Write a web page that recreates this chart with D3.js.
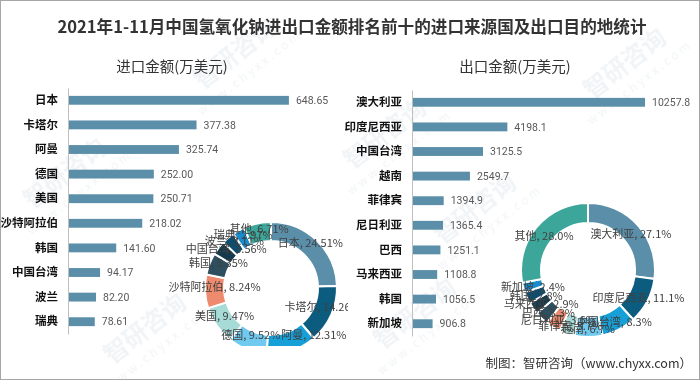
<!DOCTYPE html>
<html><head><meta charset="utf-8">
<script src="https://cdn.jsdelivr.net/npm/d3@7"></script>
<style>
html,body{margin:0;padding:0;background:#fff;}
svg{display:block;font-family:"Noto Sans CJK SC","Noto Sans",sans-serif;}
</style></head>
<body>
<svg id="c" width="700" height="380"></svg>
<script>
// ---- data ----
const titleText = "2021年1-11月中国氢氧化钠进出口金额排名前十的进口来源国及出口目的地统计";
const importTitle = "进口金额(万美元)";
const exportTitle = "出口金额(万美元)";
const sourceText = "制图：智研咨询（www.chyxx.com）";

const importCountries = ["日本","卡塔尔","阿曼","德国","美国","沙特阿拉伯","韩国","中国台湾","波兰","瑞典"];
const importValues = [648.65,377.38,325.74,252.00,250.71,218.02,141.60,94.17,82.20,78.61];
const importOther = 177.6;

const exportCountries = ["澳大利亚","印度尼西亚","中国台湾","越南","菲律宾","尼日利亚","巴西","马来西亚","韩国","新加坡"];
const exportValues = [10257.8,4198.1,3125.5,2549.7,1394.9,1365.4,1251.1,1108.8,1056.5,906.8];
const exportOther = 10600;

const otherLabel = "其他";
const sliceColors = ["#5b8fa9","#0b5c7e","#179fd8","#70c9ef","#a6dbd7","#ee8a6e","#2e4f5f","#163a4d","#0d4d6e","#1a8ccc","#3da69a"];
const barColor = "#5b8fa9";

// ---- drawing ----
const svg = d3.select("#c");
const defs = svg.append("defs");

// watermarks (faint)
const wm = svg.append("g").attr("fill","#e3e9ee").attr("opacity",0.5);
[[70,180],[240,60],[390,140],[480,215],[630,70],[150,335],[420,320]].forEach(([x,y])=>{
  const g = wm.append("g").attr("transform",`translate(${x},${y}) rotate(-38)`);
  g.append("text").attr("font-size",24).attr("font-weight","bold").attr("text-anchor","middle").text("智研咨询");
  g.append("text").attr("y",20).attr("font-size",12).attr("text-anchor","middle").attr("letter-spacing",3).text("www.chyxx.com");
});

svg.append("rect").attr("x",0.5).attr("y",0.5).attr("width",699).attr("height",379)
  .attr("fill","none").attr("stroke","#a6a6a6");

svg.append("text").attr("x",352).attr("y",33).attr("text-anchor","middle")
  .attr("font-size",16.6).attr("font-weight","bold").attr("fill","#333").text(titleText);

svg.append("text").attr("x",172).attr("y",72).attr("text-anchor","middle")
  .attr("font-size",14.5).attr("fill","#333").text(importTitle);
svg.append("text").attr("x",515).attr("y",72).attr("text-anchor","middle")
  .attr("font-size",14.5).attr("fill","#333").text(exportTitle);

svg.append("text").attr("x",692).attr("y",368).attr("text-anchor","end")
  .attr("font-size",12.5).attr("fill","#333").text(sourceText);

function bars(cfg){
  const g = svg.append("g");
  const x = d3.scaleLinear().domain([0,cfg.max]).range([cfg.x0,cfg.x1]);
  const y = d3.scaleBand().domain(cfg.cats).range(cfg.yr).paddingInner(0.64).paddingOuter(0.32);
  const ax = g.append("g").attr("transform",`translate(${cfg.x0},0)`)
    .call(d3.axisLeft(y).tickSize(0).tickPadding(10));
  ax.select(".domain").attr("stroke","#bfbfbf");
  ax.selectAll("text").attr("font-size",11.5).attr("font-weight","bold").attr("fill","#111")
    .attr("font-family","Noto Sans CJK SC");
  g.selectAll("rect.b").data(cfg.vals).enter().append("rect").attr("class","b")
    .attr("x",cfg.x0+1).attr("y",(d,i)=>y(cfg.cats[i]))
    .attr("width",d=>x(d)-cfg.x0-1).attr("height",y.bandwidth()).attr("fill",barColor);
  g.selectAll("text.v").data(cfg.vals).enter().append("text").attr("class","v")
    .attr("x",d=>x(d)+7).attr("y",(d,i)=>y(cfg.cats[i])+y.bandwidth()/2)
    .attr("dy","0.36em").attr("font-size",10.5).attr("fill","#595959")
    .attr("font-family","Roboto, 'Liberation Sans', sans-serif")
    .text(d=>cfg.fmt(d));
}

bars({cats:importCountries, vals:importValues, max:700, x0:68, x1:68+238.4, yr:[88,334], fmt:d=>d.toFixed(2)});
bars({cats:exportCountries, vals:exportValues, max:11000, x0:412, x1:412+249.9, yr:[90,336], fmt:d=>d.toFixed(1)});

function donut(cfg){
  const names = cfg.cats.concat([otherLabel]);
  const vals = cfg.vals.concat([cfg.other]);
  const total = d3.sum(vals);
  const data = names.map((n,i)=>({n, v:vals[i], c:sliceColors[i]}));
  const pie = d3.pie().sort(null).value(d=>d.v);
  const arc = d3.arc().innerRadius(cfg.ri).outerRadius(cfg.ro);
  const labArc = d3.arc().innerRadius((cfg.ri+cfg.ro)/2).outerRadius((cfg.ri+cfg.ro)/2);
  const cid = "clip"+cfg.id;
  defs.append("clipPath").attr("id",cid).append("rect")
    .attr("x",cfg.clip[0]).attr("y",cfg.clip[1]).attr("width",cfg.clip[2]).attr("height",cfg.clip[3]);
  const outer = svg.append("g").attr("clip-path",`url(#${cid})`);
  const g = outer.append("g").attr("transform",`translate(${cfg.cx},${cfg.cy})`);
  const arcs = pie(data);
  g.selectAll("path").data(arcs).enter().append("path")
    .attr("d",arc).attr("fill",d=>d.data.c).attr("stroke","#fff").attr("stroke-width",2);
  const labs = g.selectAll("text.l").data(arcs).enter().append("text").attr("class","l")
    .attr("font-size",11).attr("fill","#404040").attr("text-anchor","middle").attr("dy","0.35em")
    .text(d=>`${d.data.n}, ${(d.data.v/total*100).toFixed(cfg.dec)}%`);
  const boxes = [];
  labs.each(function(d,i){
    const [lx,ly] = labArc.centroid(d);
    const w = this.getComputedTextLength();
    let yy = ly + cfg.dy, clamped = false;
    if (cfg.cy+yy > cfg.ymax){ yy = cfg.ymax - cfg.cy; clamped = true; }
    boxes.push({el:this, x:lx, y:yy, w, clamped});
  });
  for (let i=0;i<boxes.length;i++) for (let j=0;j<boxes.length;j++){
    if (i===j) continue;
    const a=boxes[i], b=boxes[j];
    if (!a.clamped||!b.clamped) continue;
    if (a.x>=b.x && (a.x-a.w/2) < (b.x+b.w/2)) a.x = b.x + b.w/2 + a.w/2 + 1;
  }
  boxes.forEach(b=>d3.select(b.el).attr("x",b.x).attr("y",b.y));
}

donut({id:"L", cats:importCountries, vals:importValues, other:importOther, cx:271, cy:288, ri:47, ro:66, dec:2, dy:-4, ymax:335, clip:[0,0,348,346]});
donut({id:"R", cats:exportCountries, vals:exportValues, other:exportOther, cx:588, cy:270, ri:47, ro:67, dec:1, dy:2, ymax:338, clip:[350,0,350,346]});
</script>
</body></html>
